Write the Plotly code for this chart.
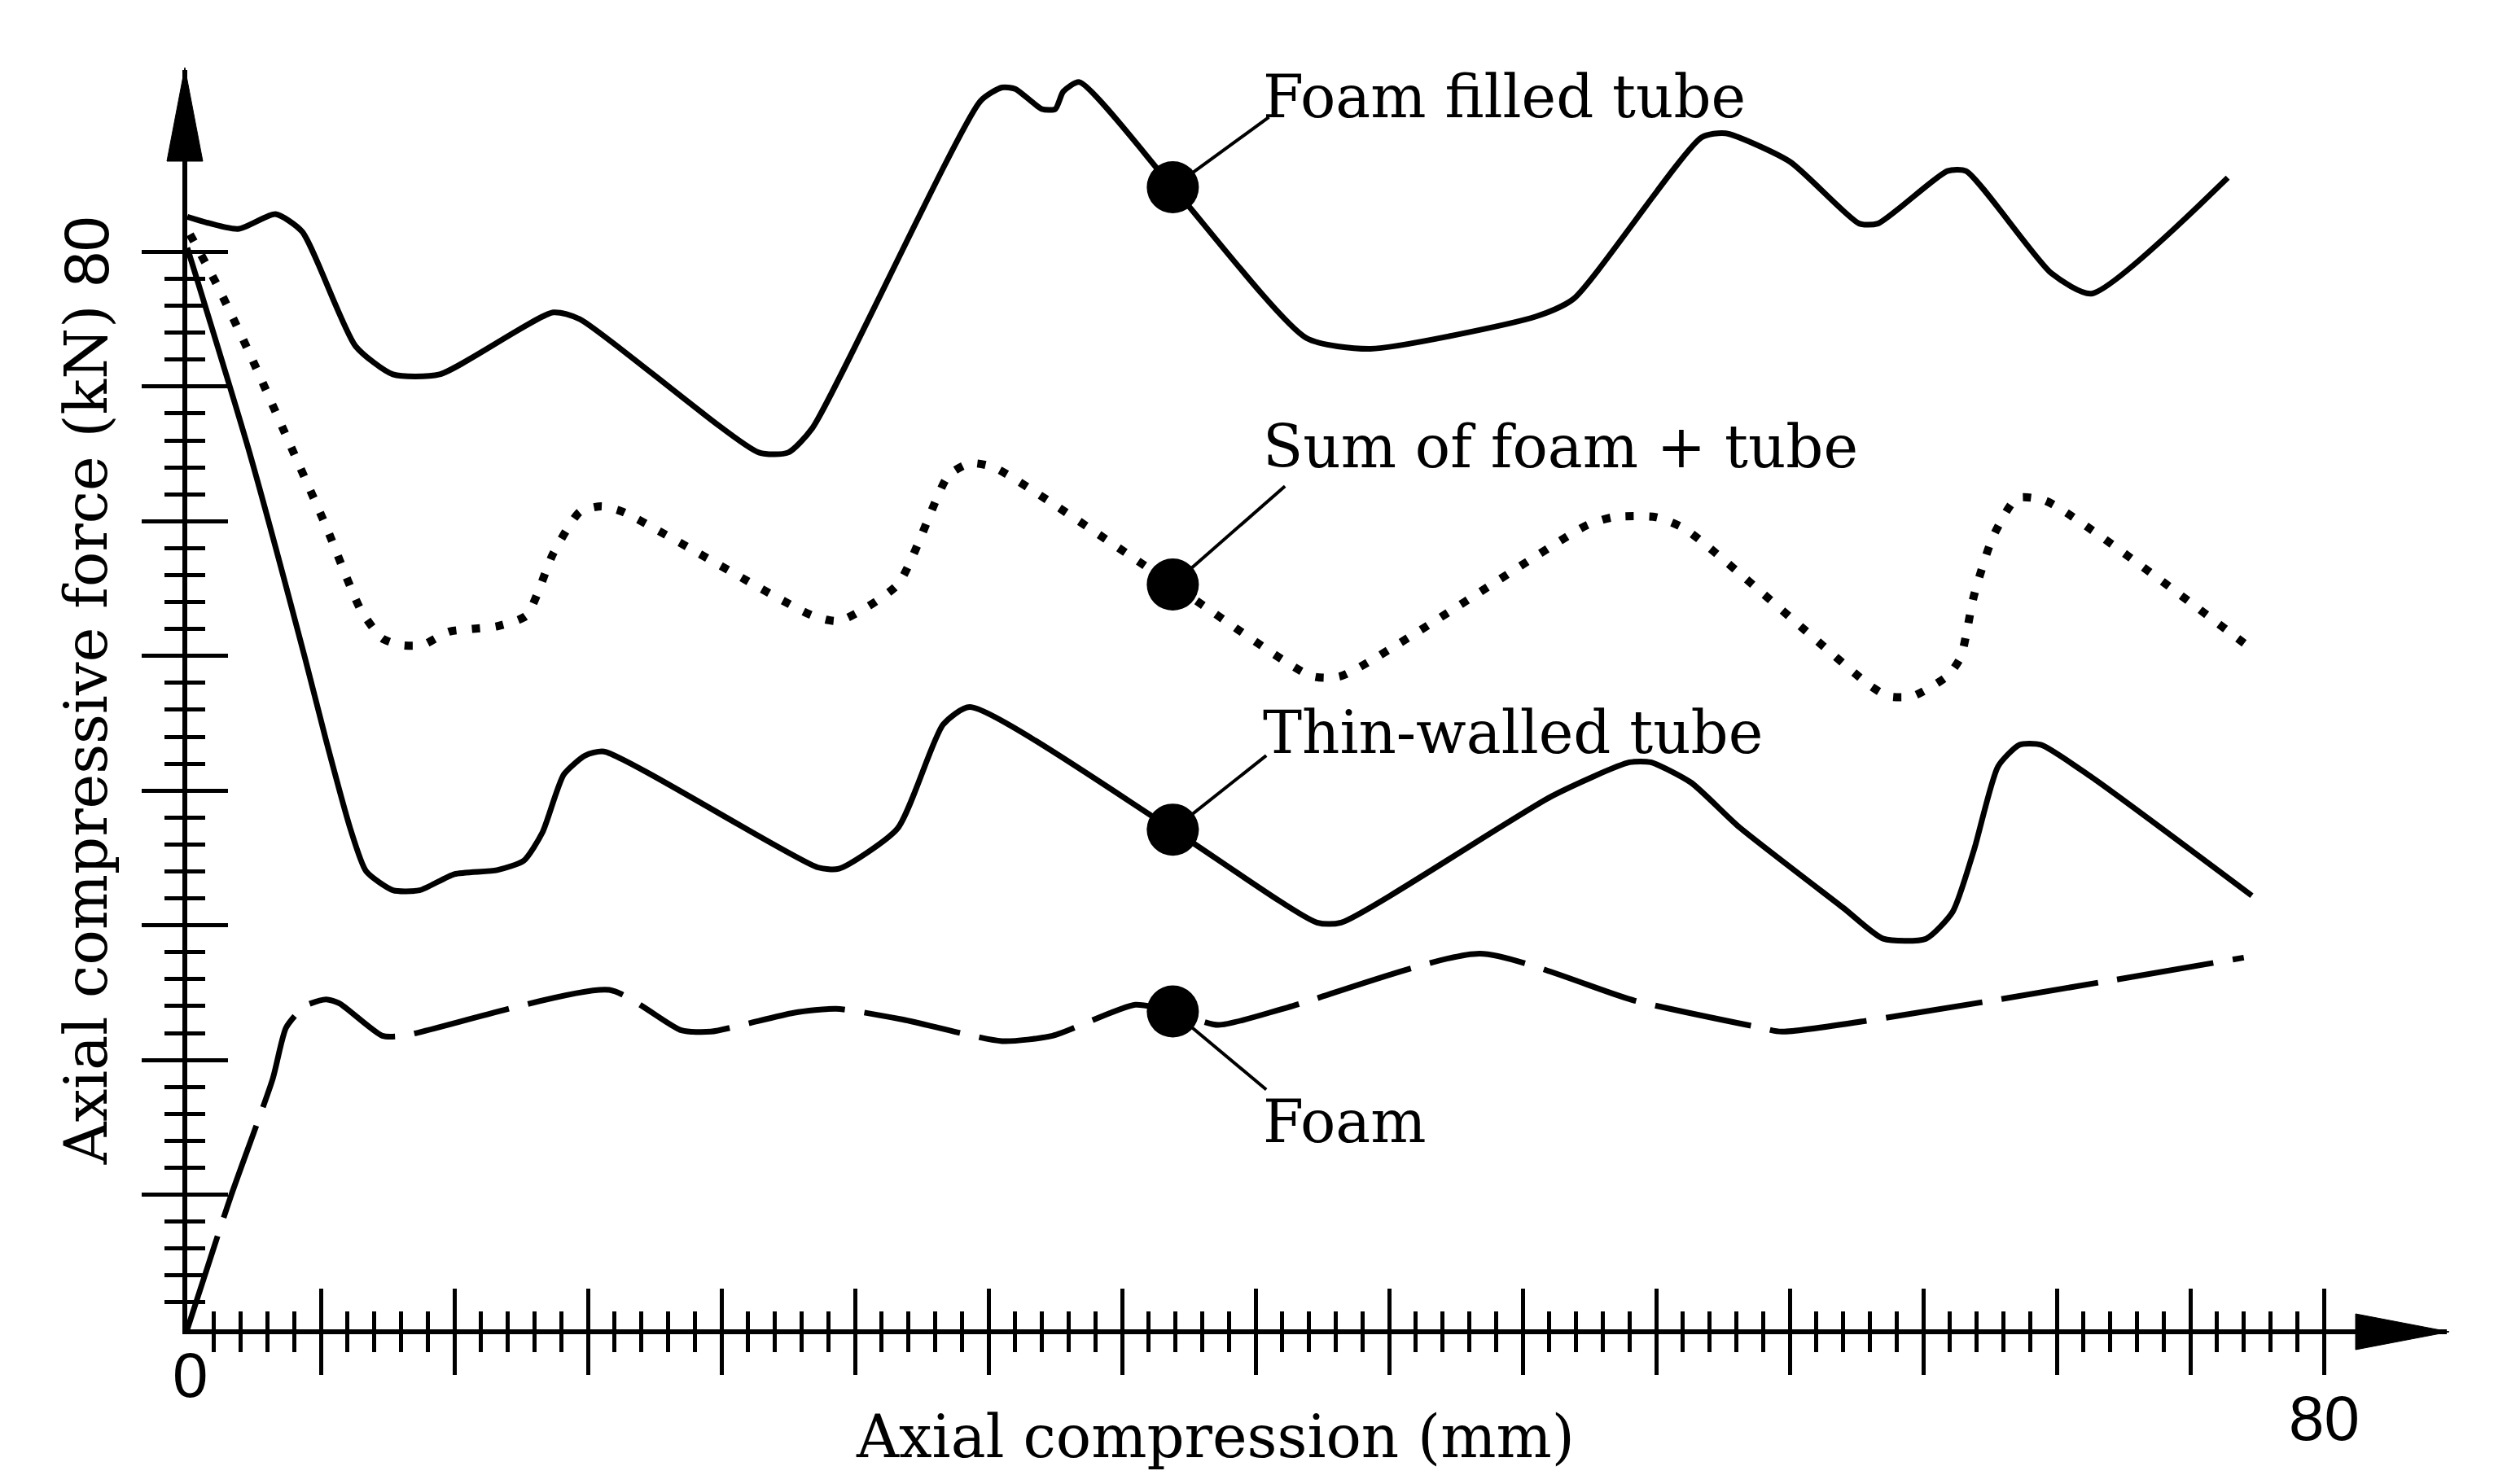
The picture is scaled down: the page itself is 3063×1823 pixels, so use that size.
import plotly.graph_objects as go

# ---------------- data ----------------
# Foam filled tube (solid, top curve)
ff_x = [0, 1.9, 3.3, 4.3, 6.3, 7.7, 9.45, 13.7, 14.7, 21.4, 22.5, 23.4, 29.7, 30.5, 31.0, 32.0,
        32.5, 32.8, 33.4, 36.9, 41.9, 44.3, 50.5, 51.9, 56.7, 57.6, 60.0, 62.6, 63.3, 65.9, 66.6,
        69.8, 71.3, 76.4]
ff_y = [82.6, 81.7, 82.8, 81.5, 73.0, 70.9, 70.9, 75.5, 75.0, 65.1, 65.1, 66.9, 91.2, 92.2, 92.1, 90.6,
        90.6, 91.9, 92.6, 84.8, 73.6, 72.8, 75.2, 76.5, 88.5, 88.8, 86.7, 82.1, 82.1, 86.0, 86.0,
        78.4, 76.9, 85.5]

# Sum of foam + tube (dotted)
sum_x = [0.1, 1.1, 2.3, 3.8, 5.2, 6.5, 7.3, 8.0, 8.8, 9.8, 11.6, 12.7, 13.7, 14.7, 15.5, 16.3,
         23.4, 24.4, 26.6, 28.5, 29.3, 30.2, 36.9, 42.1, 43.2, 52.4, 53.4, 55.0, 56.1, 63.0, 63.7,
         64.6, 65.9, 66.4, 66.9, 67.6, 68.5, 69.6, 77.3]
sum_y = [81.3, 77.6, 72.6, 65.9, 59.6, 53.4, 51.3, 50.8, 50.8, 51.8, 52.2, 53.0, 57.6, 60.7, 61.1, 60.7,
         53.0, 52.6, 55.3, 63.4, 64.3, 64.0, 55.3, 48.5, 48.5, 59.7, 60.3, 60.3, 59.4, 47.8, 47.0,
         47.0, 48.5, 49.9, 54.5, 58.8, 61.7, 61.5, 50.5]

# Thin-walled tube (solid)
tw_x = [0, 2.3, 4.4, 5.2, 6.1, 6.7, 7.7, 8.7, 10.0, 11.6, 12.6, 13.3, 14.1, 14.9, 15.6, 23.6, 24.4,
        26.6, 28.3, 29.3, 36.9, 42.3, 43.2, 51.1, 54.0, 54.8, 56.3, 58.1, 62.0, 63.5, 65.1, 66.1,
        66.9, 67.8, 68.6, 69.4, 71.3, 77.3]
tw_y = [80.3, 65.3, 49.9, 43.7, 37.2, 34.0, 32.6, 32.6, 33.8, 34.1, 34.8, 36.9, 41.2, 42.6, 42.9, 34.3, 34.2,
        37.2, 44.9, 46.2, 37.1, 30.2, 30.2, 39.6, 42.1, 42.1, 40.6, 37.3, 31.3, 29.0, 29.0, 31.0,
        35.6, 41.8, 43.4, 43.4, 41.0, 32.2]

# Foam (dashed)
fo_x = [0, 1.6, 3.2, 3.7, 4.4, 5.2, 5.7, 7.3, 8.1, 15.8, 18.5, 19.6, 22.7, 24.3, 26.8, 30.5, 32.4,
        35.5, 36.9, 38.6, 41.2, 48.4, 54.2, 58.9, 59.7, 77.0]
fo_y = [0, 9.7, 18.6, 22.4, 24.0, 24.5, 24.2, 21.8, 21.8, 25.2, 22.2, 22.1, 23.5, 23.8, 23.0, 21.4, 21.8,
        24.1, 23.6, 22.6, 23.9, 27.9, 24.4, 22.4, 22.1, 27.6]

# Callout markers, leader-line ends and label texts
labels = ["Foam filled tube", "Sum of foam + tube", "Thin-walled tube", "Foam"]
marker_x = [36.9, 36.9, 36.9, 36.9]
marker_y = [84.8, 55.3, 37.1, 23.6]
lead_x = [40.5, 41.1, 40.4, 40.4]
lead_y = [90.0, 62.6, 42.6, 17.8]
label_y = [91.5, 65.5, 44.3, 15.4]

# Axis ticks
x_major = [5 * i for i in range(1, 17)]
x_minor = [v for v in range(1, 80) if v % 5]
y_major = [10 * i for i in range(1, 9)]
y_minor = [v for v in range(2, 80, 2) if v % 10]
x_tick_text = ["0", "80"]
y_tick_text = ["80"]

X_RANGE = [0, 84.6]
Y_RANGE = [0, 93.5]


def px(v):
    return (v - X_RANGE[0]) / (X_RANGE[1] - X_RANGE[0])


def py(v):
    return (v - Y_RANGE[0]) / (Y_RANGE[1] - Y_RANGE[0])


SERIF = "DejaVu Serif"
SANS = "Liberation Sans Narrow, Liberation Sans, Arial"
BLACK = "#000000"
SMOOTH = 0.6

fig = go.Figure()

fig.add_trace(go.Scatter(x=ff_x, y=ff_y, mode="lines",
                         line=dict(color=BLACK, width=7, shape="spline", smoothing=SMOOTH),
                         showlegend=False, hoverinfo="skip"))
fig.add_trace(go.Scatter(x=sum_x, y=sum_y, mode="lines",
                         line=dict(color=BLACK, width=10, dash="10px,19px", shape="spline", smoothing=SMOOTH),
                         showlegend=False, hoverinfo="skip"))
fig.add_trace(go.Scatter(x=tw_x, y=tw_y, mode="lines",
                         line=dict(color=BLACK, width=7, shape="spline", smoothing=SMOOTH),
                         showlegend=False, hoverinfo="skip"))
fig.add_trace(go.Scatter(x=fo_x, y=fo_y, mode="lines",
                         line=dict(color=BLACK, width=7, dash="120px,24px", shape="spline", smoothing=SMOOTH),
                         showlegend=False, hoverinfo="skip"))

# leader lines
for i in range(len(labels)):
    fig.add_trace(go.Scatter(x=[marker_x[i], lead_x[i]], y=[marker_y[i], lead_y[i]], mode="lines",
                             line=dict(color=BLACK, width=4), showlegend=False, hoverinfo="skip"))

# markers
fig.add_trace(go.Scatter(x=marker_x, y=marker_y, mode="markers",
                         marker=dict(color=BLACK, size=64, line=dict(width=0)),
                         showlegend=False, hoverinfo="skip", cliponaxis=False))

# dummy trace for overlay axes (inside half of crossing ticks)
fig.add_trace(go.Scatter(x=[None], y=[None], xaxis="x2", yaxis="y2", showlegend=False, hoverinfo="skip"))

for i, t in enumerate(labels):
    fig.add_annotation(x=px(40.2), y=py(label_y[i]), xref="paper", yref="paper", text=t, showarrow=False,
                       xanchor="left", yanchor="middle",
                       font=dict(family=SERIF, size=72, color=BLACK))

# tick labels
fig.add_annotation(x=px(0.1), y=py(-3.4), xref="paper", yref="paper", text=x_tick_text[0],
                   showarrow=False, xanchor="center", yanchor="middle",
                   font=dict(family=SANS, size=78, color=BLACK))
fig.add_annotation(x=px(80), y=py(-6.6), xref="paper", yref="paper", text=x_tick_text[1],
                   showarrow=False, xanchor="center", yanchor="middle",
                   font=dict(family=SANS, size=78, color=BLACK))
fig.add_annotation(x=px(-3.78), y=py(80), xref="paper", yref="paper", text=y_tick_text[0],
                   showarrow=False, textangle=-90, xanchor="center", yanchor="middle",
                   font=dict(family=SANS, size=78, color=BLACK))

# axis titles
fig.add_annotation(x=px(38.5), y=py(-8.0), xref="paper", yref="paper", text="Axial compression (mm)",
                   showarrow=False, xanchor="center", yanchor="middle",
                   font=dict(family=SERIF, size=72, color=BLACK))
fig.add_annotation(x=px(-3.78), y=py(44.1), xref="paper", yref="paper", text="Axial compressive force (kN)",
                   showarrow=False, textangle=-90, xanchor="center", yanchor="middle",
                   font=dict(family=SERIF, size=72, color=BLACK))

tick_common = dict(tickcolor=BLACK, tickwidth=5, showgrid=False, zeroline=False,
                   showticklabels=False, fixedrange=True)

fig.update_layout(
    width=3063, height=1823,
    margin=dict(l=222, r=66, t=78, b=198, autoexpand=False),
    paper_bgcolor="white", plot_bgcolor="white",
    showlegend=False,
    xaxis=dict(range=X_RANGE, showline=True, linecolor=BLACK, linewidth=6, ticks="outside",
               tickmode="array", tickvals=x_major, ticklen=50,
               minor=dict(tickvals=x_minor, ticks="outside", ticklen=22, tickwidth=5, tickcolor=BLACK,
                          showgrid=False),
               **tick_common),
    yaxis=dict(range=Y_RANGE, showline=True, linecolor=BLACK, linewidth=6, ticks="outside",
               tickmode="array", tickvals=y_major, ticklen=50,
               minor=dict(tickvals=y_minor, ticks="outside", ticklen=22, tickwidth=5, tickcolor=BLACK,
                          showgrid=False),
               **tick_common),
    xaxis2=dict(range=X_RANGE, overlaying="x", anchor="y2", side="bottom", showline=False,
                ticks="inside", tickmode="array", tickvals=x_major, ticklen=50,
                minor=dict(tickvals=x_minor, ticks="inside", ticklen=22, tickwidth=5, tickcolor=BLACK,
                           showgrid=False),
                **tick_common),
    yaxis2=dict(range=Y_RANGE, overlaying="y", anchor="x2", side="left", showline=False,
                ticks="inside", tickmode="array", tickvals=y_major, ticklen=50,
                minor=dict(tickvals=y_minor, ticks="inside", ticklen=22, tickwidth=5, tickcolor=BLACK,
                           showgrid=False),
                **tick_common),
)

# arrow heads at the ends of both axes
fig.add_shape(type="path", xref="paper", yref="paper", xsizemode="pixel", ysizemode="pixel",
              xanchor=1, yanchor=0, path="M 3,-3 L -112,19 L -112,-25 Z",
              fillcolor=BLACK, line=dict(color=BLACK, width=1), layer="above")
fig.add_shape(type="path", xref="paper", yref="paper", xsizemode="pixel", ysizemode="pixel",
              xanchor=0, yanchor=1, path="M -3,3 L -25,-112 L 19,-112 Z",
              fillcolor=BLACK, line=dict(color=BLACK, width=1), layer="above")

fig.write_html("out.html")
